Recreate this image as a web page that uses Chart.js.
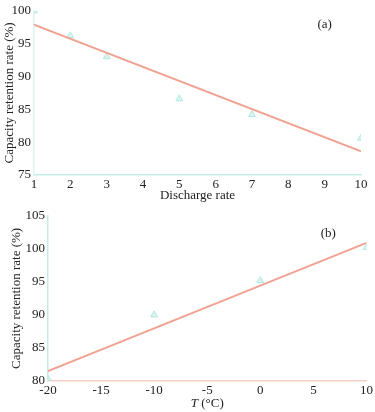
<!DOCTYPE html>
<html>
<head>
<meta charset="utf-8">
<script src="https://cdn.jsdelivr.net/npm/chart.js@4.4.0/dist/chart.umd.min.js"></script>
<style>
  body { margin: 0; background: #fff; }
  canvas { display: block; }
</style>
</head>
<body>
<canvas id="chartA" width="375" height="205"></canvas>
<canvas id="chartB" width="375" height="207"></canvas>
<script>
// (a) capacity retention vs discharge rate
var rateX = [1, 2, 3, 5, 7, 10];
var rateY = [100, 96.2, 93, 86.6, 84.2, 80.6];
var rateFitX = [1, 10];
var rateFitY = [97.9, 78.6];

// (b) capacity retention vs temperature
var tempX = [-20, -10, 0, 10];
var tempY = [80.3, 90, 95.2, 100.2];
var tempFitX = [-20, 10];
var tempFitY = [81.5, 100.9];

var serif = "'Liberation Serif', 'Times New Roman', serif";
var lineColor = '#f0a393';
var markColor = '#b4e8e1';

function pairs(xs, ys) {
  return xs.map(function (x, i) { return { x: x, y: ys[i] }; });
}

// draws a short text at a data position, e.g. the "(a)" panel tag
function panelTag(text, xv, yv) {
  return {
    id: 'tag' + text,
    afterDraw: function (chart) {
      var ctx = chart.ctx;
      ctx.save();
      ctx.font = '13px ' + serif;
      ctx.fillStyle = '#222';
      ctx.textAlign = 'center';
      ctx.textBaseline = 'middle';
      ctx.fillText(text, chart.scales.x.getPixelForValue(xv), chart.scales.y.getPixelForValue(yv));
      ctx.restore();
    }
  };
}

function buildChart(el, xs, ys, fitX, fitY, opts) {
  return new Chart(document.getElementById(el), {
    type: 'scatter',
    data: {
      datasets: [{
        type: 'line',
        data: pairs(fitX, fitY),
        borderColor: lineColor,
        borderWidth: 2,
        pointRadius: 0,
        fill: false
      }, {
        data: pairs(xs, ys),
        pointStyle: 'triangle',
        pointRadius: 4,
        backgroundColor: 'rgba(190,236,230,0.6)',
        borderColor: markColor,
        borderWidth: 1
      }]
    },
    options: {
      responsive: false,
      animation: false,
      devicePixelRatio: 1,
      layout: { padding: opts.padding },
      plugins: { legend: { display: false }, tooltip: { enabled: false } },
      scales: {
        x: {
          type: 'linear',
          min: opts.xMin, max: opts.xMax,
          afterFit: function (s) { s.height = opts.xHeight; },
          ticks: { stepSize: opts.xStep, padding: 2, color: '#222', font: { family: serif, size: 13 } },
          grid: { display: true, drawOnChartArea: false, drawTicks: false },
          border: { display: true, color: opts.xBorder, width: 1.5 },
          title: {
            display: !!opts.xTitle, text: opts.xTitle || '', color: '#222',
            font: { family: serif, size: 13 }, padding: { top: 0, bottom: 2 }
          }
        },
        y: {
          min: opts.yMin, max: opts.yMax,
          afterFit: function (s) { s.width = opts.yWidth; },
          ticks: { stepSize: 5, padding: 3, color: '#222', font: { family: serif, size: 13 } },
          grid: { display: true, drawOnChartArea: false, drawTicks: false },
          border: { display: true, color: opts.yBorder, width: 1.5 },
          title: {
            display: true, text: 'Capacity retention rate (%)', color: '#222',
            font: { family: serif, size: 13 }, padding: { top: opts.yTitlePad, bottom: 0 }
          }
        }
      }
    },
    plugins: opts.plugins
  });
}

buildChart('chartA', rateX, rateY, rateFitX, rateFitY, {
  padding: { top: 6, right: 14, left: 0, bottom: 0 },
  xMin: 1, xMax: 10, xStep: 1, xHeight: 30,
  yMin: 75, yMax: 100, yWidth: 34, yTitlePad: 2,
  xTitle: 'Discharge rate',
  xBorder: '#c6ebe6', yBorder: '#dff3f0',
  plugins: [panelTag('(a)', 9, 97.9)]
});

// x title of (b) has an italic T, so it is drawn by hand
var tempTitle = {
  id: 'tempTitle',
  afterDraw: function (chart) {
    var ctx = chart.ctx;
    var area = chart.chartArea;
    var cx = (area.left + area.right) / 2;
    var y = chart.height - 8;
    ctx.save();
    ctx.fillStyle = '#222';
    ctx.textBaseline = 'middle';
    ctx.font = 'italic 13px ' + serif;
    var wT = ctx.measureText('T').width;
    ctx.font = '13px ' + serif;
    var wRest = ctx.measureText(' (°C)').width;
    var x0 = cx - (wT + wRest) / 2;
    ctx.font = 'italic 13px ' + serif;
    ctx.fillText('T', x0, y);
    ctx.font = '13px ' + serif;
    ctx.fillText(' (°C)', x0 + wT, y);
    ctx.restore();
  }
};

buildChart('chartB', tempX, tempY, tempFitX, tempFitY, {
  padding: { top: 10, right: 7, left: 0, bottom: 0 },
  xMin: -20, xMax: 10, xStep: 5, xHeight: 31,
  yMin: 80, yMax: 105, yWidth: 48, yTitlePad: 9,
  xTitle: null,
  xBorder: '#f6d0c8', yBorder: '#c6ebe6',
  plugins: [panelTag('(b)', 6.4, 102.3), tempTitle]
});
</script>
</body>
</html>
